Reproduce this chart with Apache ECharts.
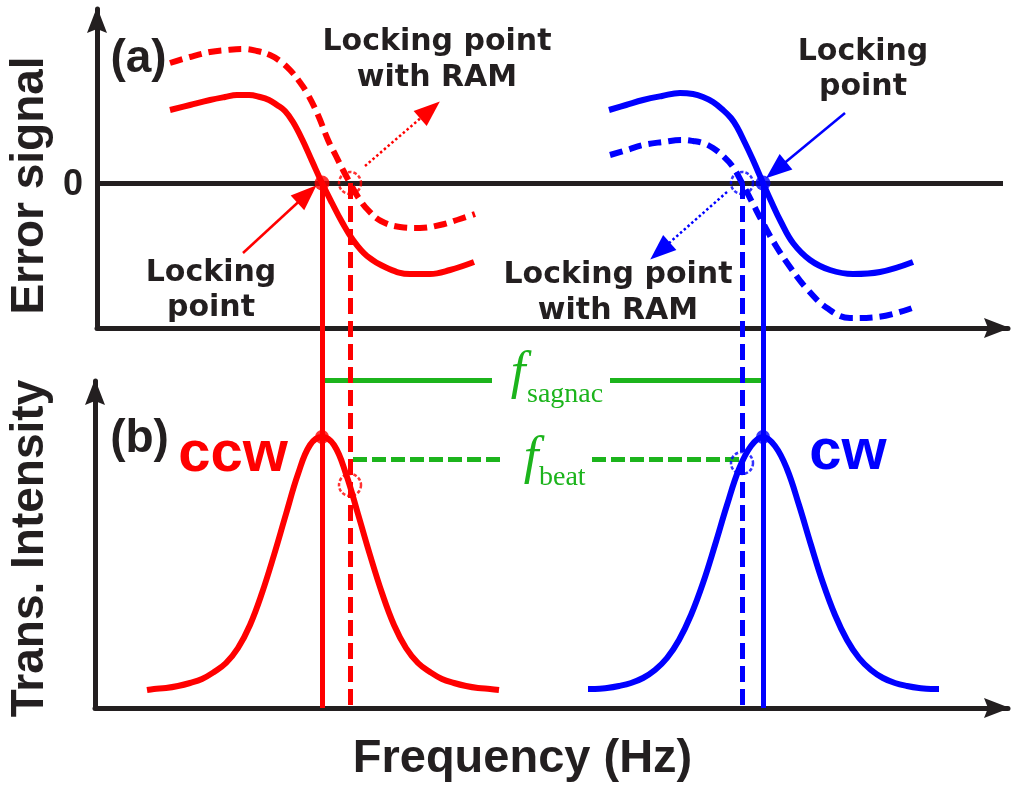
<!DOCTYPE html>
<html><head><meta charset="utf-8">
<script src="https://cdn.jsdelivr.net/npm/echarts@6/dist/echarts.min.js"></script>
<style>html,body{margin:0;padding:0;background:#fff}#c{width:1012px;height:787px}</style>
</head><body><div id="c"></div>
<script>
// ---------- data (frequency in arbitrary units, signals in arbitrary units) ----------
// Panel (a): error signals  [frequency, error]
const ccwErrorLocked = [[73,73],[93,78],[113,83],[128,86],[140,88],[152,88],[163,86],[172,83],[180,78],[188,72],[196,61],[205,44],[215,22],[225,0],[235,-20],[245,-39],[256,-57],[270,-73],[290,-85],[313,-91],[333,-91],[353,-87],[377,-79]];
const ccwErrorRAM = [[73,120],[93,126],[113,131],[130,133],[146,134],[160,132],[173,128],[183,122],[193,113],[202,102],[210,90],[221,68],[231,43],[239,27],[246,13],[253,0],[261,-14],[271,-27],[284,-38],[303,-44],[323,-45],[343,-42],[363,-36],[378,-31]];
const cwErrorLocked = [[512,73],[529,78],[546,83],[565,87],[583,90],[596,89],[606,86],[616,81],[626,73],[634,65],[640,56],[648,40],[656,23],[666,0],[674,-18],[684,-39],[696,-60],[713,-77],[733,-87],[756,-91],[783,-89],[816,-79]];
const cwErrorRAM = [[513,28],[530,33],[546,38],[566,41],[585,43],[596,42],[606,40],[616,35],[626,27],[636,16],[645,0],[655,-19],[666,-40],[679,-63],[693,-84],[710,-106],[730,-125],[753,-135],[780,-134],[818,-124]];
// Panel (b): transmitted intensity  [frequency, intensity]
const ccwIntensity = [[50,0],[57,1],[69,2],[81,4],[93,7],[105,11],[117,18],[129,27],[141,42],[153,65],[165,97],[177,135],[189,176],[201,216],[213,245],[225,253],[237,245],[249,216],[261,176],[273,135],[285,97],[297,65],[309,42],[321,27],[333,18],[345,11],[357,7],[369,4],[381,2],[393,1],[402,0]];
const cwIntensity = [[491,1],[498,1],[510,2],[522,4],[534,7],[546,12],[558,20],[570,32],[582,50],[594,75],[606,107],[618,145],[630,185],[642,221],[654,244],[666,253],[678,244],[690,221],[702,185],[714,145],[726,107],[738,75],[750,50],[762,32],[774,20],[786,12],[798,7],[810,4],[822,2],[834,1],[842,1]];
// lock frequencies: ccw, ccw with RAM, cw, cw with RAM
const lockFrequencies = [225, 253, 666, 645];
const peakIntensity = 253;
const ramIntensity = [205, 227];           // intensity at RAM lock points (ccw, cw)
const axisRangeA = {x:[0,911], y:[-145,174]};
const axisRangeB = {x:[-2,911], y:[-18,309]};
const lockLineBottom = -525;               // error-scale level of panel (b) frequency axis
const sagnacSegments = [[[225,310],[395,310]],[[513,310],[666,310]]];
const beatSegments = [[[256,231],[405,231]],[[495,231],[643,231]]];
// annotation arrows [tail, head] in panel (a) units
const solidArrows = [[[146,-70],[210,-11]], [[748,70],[679,13]]];
const dottedArrows = [[[268,17],[333,73]], [[630,-9],[563,-68]]];

// ---------- styles ----------
const AX = '#231f20', RED = '#ff0000', BLUE = '#0000ff', GREEN = '#1cb41c';
const arrowPath = 'path://M10,0 L20,26 L10,22 L0,26 Z';

function axis(gridIndex, range) {
  return {
    type: 'value', gridIndex, min: range[0], max: range[1],
    axisLine: {show: true, onZero: false, lineStyle: {color: AX, width: 5},
      symbol: ['none', arrowPath], symbolSize: [20, 26], symbolOffset: [0, -11]},
    axisTick: {show: false}, axisLabel: {show: false}, splitLine: {show: false}
  };
}
function curve(data, color, dashed, g) {
  return {type: 'line', xAxisIndex: g, yAxisIndex: g, data, smooth: 0.4, symbol: 'none',
    lineStyle: {color, width: 6, type: dashed ? [13, 7] : 'solid', cap: 'butt', join: 'round'}, z: 3, silent: true};
}
function segLines(segs, color, width, type, g, z) {
  return {type: 'lines', coordinateSystem: 'cartesian2d', xAxisIndex: g, yAxisIndex: g, clip: false,
    data: segs.map(s => ({coords: s})), lineStyle: {color, width, type, opacity: 1}, symbol: 'none', z: z || 2, silent: true};
}
function arrowLines(segs, color, width, type) {
  return {type: 'lines', coordinateSystem: 'cartesian2d', xAxisIndex: 0, yAxisIndex: 0, clip: false,
    data: segs.map(s => ({coords: s})), lineStyle: {color, width, type, opacity: 1},
    symbol: ['none', 'triangle'], symbolSize: [1, [20, 26]], z: 6, silent: true};
}
function T(x, y, text, size, o) {
  o = o || {};
  return {type: 'text', x, y, rotation: o.rot || 0, z: 100, silent: true,
    style: {text, fill: o.color || AX, fontSize: size, fontFamily: o.family || 'DejaVu Sans',
      fontWeight: o.weight || 'bold', fontStyle: o.style || 'normal', align: o.align || 'center',
      verticalAlign: 'middle', lineHeight: o.lh || size * 1.2}};
}

const lockColors = [RED, RED, BLUE, BLUE];
const lockDashed = [false, true, false, true];
const series = [];
// zero line
series.push(segLines([[[axisRangeA.x[0], 0], [906, 0]]], AX, 5, 'solid', 0, 1));
// error curves
series.push(curve(ccwErrorLocked, RED, false, 0));
series.push(curve(ccwErrorRAM, RED, true, 0));
series.push(curve(cwErrorLocked, BLUE, false, 0));
series.push(curve(cwErrorRAM, BLUE, true, 0));
// intensity curves
series.push(curve(ccwIntensity, RED, false, 1));
series.push(curve(cwIntensity, BLUE, false, 1));
// lock lines spanning both panels
lockFrequencies.forEach((f, i) => {
  series.push(segLines([[[f, 0], [f, lockLineBottom]]], lockColors[i], 5, lockDashed[i] ? [16, 7] : 'solid', 0, 4));
});
// green markers
series.push(segLines(sagnacSegments, GREEN, 5, 'solid', 1, 2));
series.push(segLines(beatSegments, GREEN, 5, [14, 5], 1, 2));
// dots
series.push({type: 'scatter', xAxisIndex: 0, yAxisIndex: 0, symbolSize: 15, z: 7, silent: true,
  data: [{value: [lockFrequencies[0], 0], itemStyle: {color: RED}}, {value: [lockFrequencies[2], 0], itemStyle: {color: BLUE}}]});
series.push({type: 'scatter', xAxisIndex: 1, yAxisIndex: 1, symbolSize: 14, z: 7, silent: true,
  data: [{value: [lockFrequencies[0], peakIntensity], itemStyle: {color: RED}}, {value: [lockFrequencies[2], peakIntensity], itemStyle: {color: BLUE}}]});
// dashed circles at RAM lock points
const circleStyle = c => ({color: 'rgba(0,0,0,0)', borderColor: c, borderWidth: 2.5, borderType: [3.5, 2]});
series.push({type: 'scatter', xAxisIndex: 0, yAxisIndex: 0, symbolSize: 22, z: 7, silent: true,
  data: [{value: [lockFrequencies[1], 0], itemStyle: circleStyle(RED)}, {value: [lockFrequencies[3], 0], itemStyle: circleStyle(BLUE)}]});
series.push({type: 'scatter', xAxisIndex: 1, yAxisIndex: 1, symbolSize: 22, z: 7, silent: true,
  data: [{value: [lockFrequencies[1], ramIntensity[0]], itemStyle: circleStyle(RED)}, {value: [lockFrequencies[3], ramIntensity[1]], itemStyle: circleStyle(BLUE)}]});
// annotation arrows
series.push(arrowLines([solidArrows[0]], RED, 2.5, 'solid'));
series.push(arrowLines([solidArrows[1]], BLUE, 2.5, 'solid'));
series.push(arrowLines([dottedArrows[0]], RED, 2.5, [2.5, 2.5]));
series.push(arrowLines([dottedArrows[1]], BLUE, 2.5, [2.5, 2.5]));

const LS = 'Liberation Sans', SERIF = 'Liberation Serif';
const graphic = [
  T(437, 60, 'Locking point\nwith RAM', 30, {lh: 36}),
  T(211, 291, 'Locking\npoint', 30, {lh: 35}),
  T(863, 69.5, 'Locking\npoint', 30, {lh: 35}),
  T(618, 293, 'Locking point\nwith RAM', 30, {lh: 36}),
  T(73, 185, '0', 36, {family: LS}),
  T(138.5, 59, '(a)', 46, {family: LS}),
  T(139.5, 439, '(b)', 46, {family: LS}),
  T(233, 455, 'ccw', 58, {family: LS, color: RED}),
  T(848, 453, 'cw', 58, {family: LS, color: BLUE}),
  T(30, 185.5, 'Error signal', 46, {family: LS, rot: Math.PI / 2}),
  T(30, 548.5, 'Trans. Intensity', 46, {family: LS, rot: Math.PI / 2}),
  T(522.5, 759, 'Frequency (Hz)', 47, {family: LS}),
  T(518, 374, 'f', 53, {family: SERIF, weight: 'normal', style: 'italic', color: GREEN}),
  T(527, 394.5, 'sagnac', 28, {family: SERIF, weight: 'normal', align: 'left', color: GREEN}),
  T(531, 459, 'f', 53, {family: SERIF, weight: 'normal', style: 'italic', color: GREEN}),
  T(539, 477.5, 'beat', 28, {family: SERIF, weight: 'normal', align: 'left', color: GREEN})
];

const chart = echarts.init(document.getElementById('c'), null, {renderer: 'canvas'});
chart.setOption({
  animation: false,
  backgroundColor: '#ffffff',
  grid: [
    {left: 97, right: 4, top: 9, bottom: 459, containLabel: false, outerBoundsMode: 'none'},
    {left: 95, right: 4, top: 381, bottom: 79, containLabel: false, outerBoundsMode: 'none'}
  ],
  xAxis: [axis(0, axisRangeA.x), axis(1, axisRangeB.x)],
  yAxis: [axis(0, axisRangeA.y), axis(1, axisRangeB.y)],
  series,
  graphic
});
</script></body></html>
